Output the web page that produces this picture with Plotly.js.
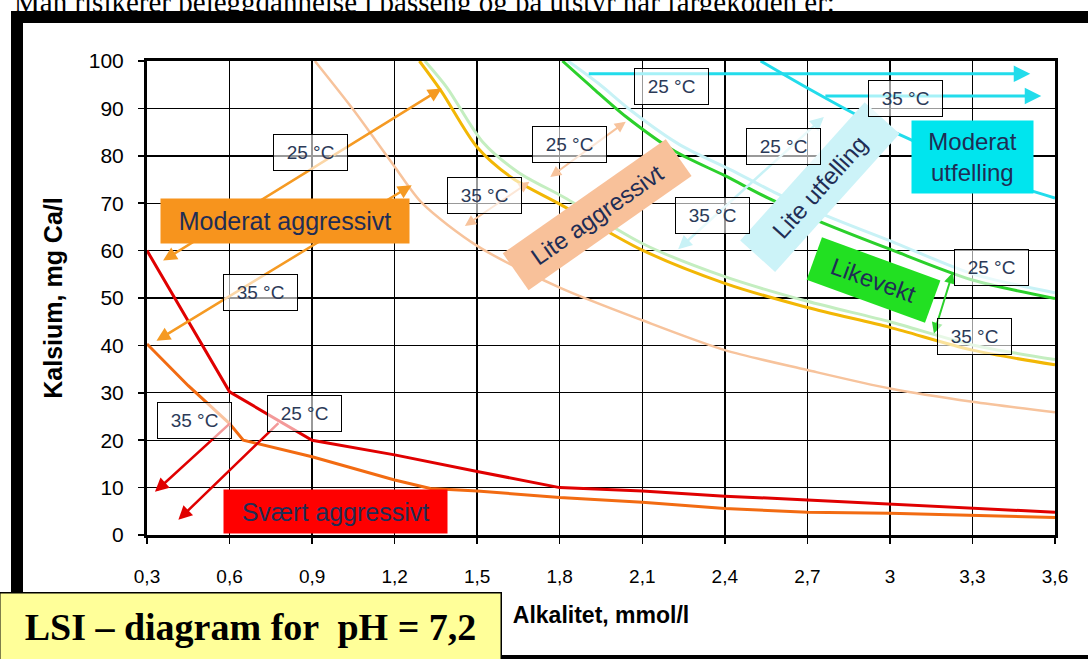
<!DOCTYPE html>
<html><head><meta charset="utf-8">
<script src="https://cdn.plot.ly/plotly-3.0.1.min.js"></script>
<style>html,body{margin:0;padding:0;background:#fff;overflow:hidden}#chart{width:1088px;height:659px}</style>
</head><body><div id="chart"></div>
<script>
// ---------- DATA ----------
const xTickVals = [0.3,0.6,0.9,1.2,1.5,1.8,2.1,2.4,2.7,3.0,3.3,3.6];
const xTickText = ['0,3','0,6','0,9','1,2','1,5','1,8','2,1','2,4','2,7','3','3,3','3,6'];
const yTickVals = [0,10,20,30,40,50,60,70,80,90,100];

const redX = [0.3,0.6,0.9,1.2,1.5,1.8,2.1,2.4,2.7,3.0,3.3,3.6];
const redY = [60,30.2,20,16.9,13.4,10.0,9.3,8.2,7.4,6.5,5.6,4.8];

const orangeX = [0.3,0.45,0.6,0.65,0.9,1.2,1.33,1.5,1.8,2.1,2.4,2.7,3.0,3.3,3.6];
const orangeY = [40.3,31.5,23.5,20,16.5,11.6,9.8,9.3,7.9,6.9,5.6,4.8,4.6,4.2,3.7];

const peachX = [0.91,1.05,1.2,1.3,1.5,1.8,2.1,2.4,2.7,3.0,3.3,3.6];
const peachY = [100,89.7,77.7,70,61,52.2,45.3,39,34.8,30.9,28.1,25.9];

const yellowX = [1.29,1.37,1.5,1.63,1.8,2.1,2.4,2.7,3.0,3.3,3.6];
const yellowY = [100,93.6,81.8,75.2,69.8,60.1,53.1,48,43.8,39,35.9];

const paleGreenX = [1.31,1.39,1.52,1.65,1.82,2.1,2.4,2.7,3.0,3.3,3.6];
const paleGreenY = [100,94.4,82.9,76.5,71.1,61.5,54.5,49.3,45,40.1,37];

const greenX = [1.81,1.92,2.04,2.22,2.4,2.56,2.73,3.0,3.3,3.6];
const greenY = [100,94.3,88.3,80.9,75.8,71,66.5,60.3,53.8,49.9];

const paleCyanX = [1.83,1.94,2.06,2.24,2.42,2.58,2.75,3.02,3.3,3.6];
const paleCyanY = [100,95.3,89.5,82.2,77.1,72.3,67.8,61.6,55.1,51.1];

const cyanX = [2.53,2.7,2.89,3.09,3.3,3.6];
const cyanY = [100,94.3,88.3,83,76.8,71.1];

// arrows: [tailX, tailY, headX, headY]
const orangeArrows = [[0.353,57.7,1.371,94.2],[0.329,40.8,1.262,73.8]];
const peachArrows  = [[1.45,65,1.69,74.5],[1.76,75.3,2.04,87.2]];
const paleCyanArrows = [[2.225,60,2.76,88.2]];
const cyanArrows   = [[1.90,97.3,3.51,97.3],[2.76,92.6,3.55,92.6]];
const greenArrows  = [[3.23,55.7,3.16,42.5]];
const redArrows    = [[0.608,23.9,0.329,9.1],[0.783,23.9,0.414,3.2]];

// temperature tags
const tagText = ['25 °C','35 °C','35 °C','25 °C','35 °C','25 °C','25 °C','35 °C','25 °C','35 °C','25 °C','35 °C'];
const tagX = [0.896,0.711,0.471,0.874,1.528,1.834,2.205,2.357,2.615,3.055,3.371,3.309];
const tagY = [80.8,51.1,24.1,25.7,71.7,82.3,94.7,67.5,81.9,92.0,56.5,41.8];

// zone labels
const zoneText = ['Moderat aggressivt','Svært aggressivt','Lite aggressivt','Lite utfelling','Likevekt','Moderat<br>utfelling'];
const zoneX = [0.802,0.985,1.934,2.745,2.94,3.30];
const zoneY = [66.2,5.0,67.6,73.5,53.8,79.8];

// ---------- STYLE / LAYOUT ----------
const L=147,R=1055,T=61,B=535;
const PX = x => (x-L)/(R-L);
const PY = y => (B-y)/(B-T);

function line(x,y,color,w,smooth){return {x:x,y:y,type:'scatter',mode:'lines',
  line:{color:color,width:w,shape:smooth?'spline':'linear',smoothing:0.8},hoverinfo:'skip',showlegend:false};}
const traces = [
  line(paleGreenX,paleGreenY,'#C4EEC0',3,true),
  line(yellowX,yellowY,'#F2B705',3,true),
  line(paleCyanX,paleCyanY,'#C8F2F6',3,true),
  line(greenX,greenY,'#2BD02B',3,true),
  line(cyanX,cyanY,'#22DCEB',3,true),
  line(peachX,peachY,'#F7C39C',2.5,true),
  line(orangeX,orangeY,'#F26B12',3,false),
  line(redX,redY,'#E00000',3,false)
];

const ann = [];
function arrows(list,color,w,both){
  list.forEach(a=>ann.push({xref:'x',yref:'y',axref:'x',ayref:'y',x:a[2],y:a[3],ax:a[0],ay:a[1],text:'',
    showarrow:true,arrowhead:2,startarrowhead:2,arrowsize:1.1,startarrowsize:1.1,arrowwidth:w,arrowcolor:color,
    arrowside:both?'end+start':'end',standoff:0,startstandoff:0}));
}
arrows(orangeArrows,'#F59A23',2.5,true);
arrows(peachArrows,'#F7C39C',2,true);
arrows(paleCyanArrows,'#C8F2F6',2.5,true);
arrows(cyanArrows,'#22DCEB',3,false);
arrows(greenArrows,'#2BD02B',2,true);
arrows(redArrows,'#E00000',2.5,false);

const zoneStyle = [
  {bg:'#F7941D',w:248,h:44,a:0},
  {bg:'#FF0000',w:223,h:43,a:0},
  {bg:'#F8C19A',w:198,h:44,a:-35},
  {bg:'#CCF3F8',w:185,h:46,a:-48},
  {bg:'#22E022',w:125,h:44,a:20},
  {bg:'#00E5EE',w:121,h:72,a:0}
];
zoneText.forEach((t,i)=>{
  const s=zoneStyle[i];
  ann.push({xref:'x',yref:'y',x:zoneX[i],y:zoneY[i],text:t,showarrow:false,bgcolor:s.bg,borderpad:0,
    width:s.w,height:s.h,textangle:s.a,align:'center',
    font:{family:'Liberation Sans, Arial',size:i<2?25:24,color:'#1F2D55'}});
});
tagText.forEach((t,i)=>{
  ann.push({xref:'x',yref:'y',x:tagX[i],y:tagY[i],text:t,showarrow:false,bgcolor:'rgba(255,255,255,0.6)',
    bordercolor:'#000',borderwidth:1,borderpad:0,width:73,height:35,
    font:{family:'Liberation Sans, Arial',size:19,color:'#2B3A58'}});
});
// page caption (cut by frame) and LSI box
ann.push({xref:'paper',yref:'paper',x:PX(12),y:PY(20),xanchor:'left',yanchor:'bottom',showarrow:false,
  text:'Man risikerer beleggdannelse i basseng og på utstyr når fargekoden er:',
  font:{family:'Liberation Serif, Times New Roman',size:29,color:'#000'}});
ann.push({xref:'paper',yref:'paper',x:PX(250),y:PY(626),xanchor:'center',yanchor:'middle',showarrow:false,
  text:'LSI – diagram for \u00a0pH = 7,2',bgcolor:'#FFFF99',bordercolor:'#000',borderwidth:1.5,borderpad:0,
  width:500,height:66,font:{family:'Liberation Serif, Times New Roman',size:38,color:'#000',weight:'bold'}});

const shapes = [
  {type:'rect',xref:'paper',yref:'paper',x0:PX(11),x1:PX(23),y0:PY(11),y1:PY(659),fillcolor:'#000',line:{width:0}},
  {type:'rect',xref:'paper',yref:'paper',x0:PX(11),x1:PX(1088),y0:PY(11),y1:PY(23),fillcolor:'#000',line:{width:0}},
  {type:'rect',xref:'paper',yref:'paper',x0:PX(500),x1:PX(1088),y0:PY(655),y1:PY(659),fillcolor:'#000',line:{width:0}}
];

const axisCommon = {showgrid:true,gridcolor:'#000',gridwidth:1.4,zeroline:false,showline:true,linecolor:'#000',linewidth:3,
  mirror:true,ticks:'outside',ticklen:6,tickwidth:1.5,tickcolor:'#000'};

const layout = {
  width:1088,height:659,margin:{l:L,r:1088-R,t:T,b:659-B},
  paper_bgcolor:'#fff',plot_bgcolor:'#fff',showlegend:false,
  xaxis:Object.assign({},axisCommon,{range:[0.3,3.6],tickmode:'array',tickvals:xTickVals,ticktext:xTickText,
    tickfont:{family:'Liberation Sans, Arial',size:19,color:'#000'},ticklabelstandoff:16,
    title:{text:'Alkalitet, mmol/l',standoff:22,font:{family:'Liberation Sans, Arial',size:23,color:'#000',weight:'bold'}}}),
  yaxis:Object.assign({},axisCommon,{range:[0,100],tickmode:'array',tickvals:yTickVals,
    tickfont:{family:'Liberation Sans, Arial',size:21,color:'#000'},ticklabelstandoff:10,
    title:{text:'Kalsium, mg Ca/l',standoff:20,font:{family:'Liberation Sans, Arial',size:25,color:'#000',weight:'bold'}}}),
  annotations:ann,shapes:shapes
};
Plotly.newPlot('chart',traces,layout,{staticPlot:true});
</script></body></html>
